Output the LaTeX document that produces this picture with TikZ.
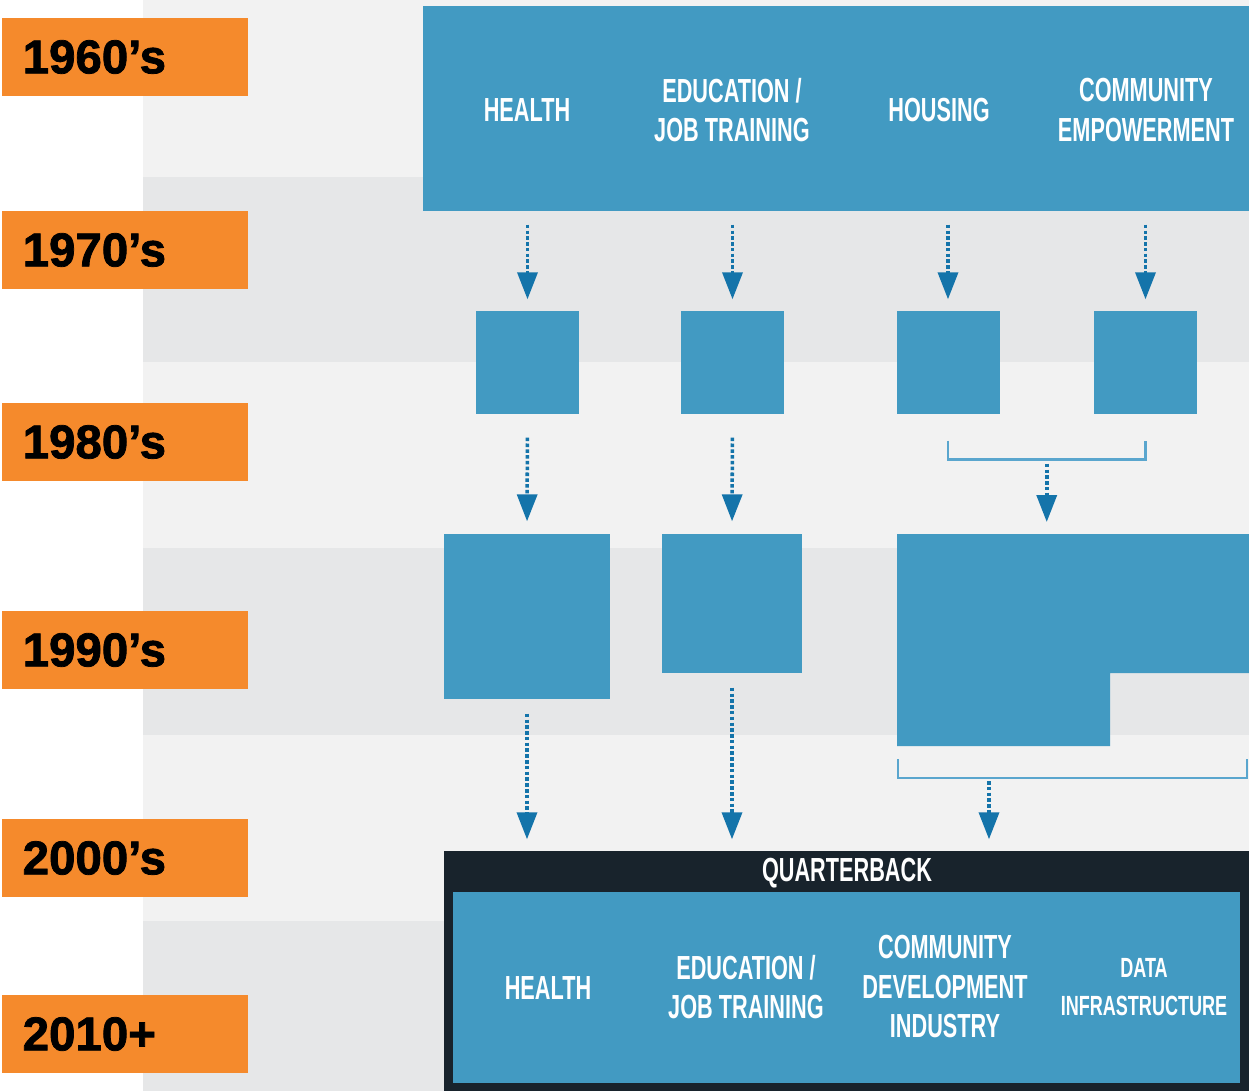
\documentclass[tikz,border=0pt]{standalone}
\usepackage{fontspec}
\setmainfont{Liberation Sans}
\newfontfamily\condfont{Liberation Sans}[FakeStretch=0.65]
\newfontfamily\yearfont{Liberation Sans Bold}[FakeBold=1.6]
\usetikzlibrary{arrows.meta,calc}

\definecolor{bandlight}{HTML}{F2F2F2}
\definecolor{banddark}{HTML}{E6E7E8}
\definecolor{decadeorange}{HTML}{F58A2C}
\definecolor{boxblue}{HTML}{429AC2}
\definecolor{arrowblue}{HTML}{1474AA}
\definecolor{bracketblue}{HTML}{5AA6CE}
\definecolor{qbdark}{HTML}{18232C}

\tikzset{
	decade/.style={fill=decadeorange, text=black, anchor=west, minimum height=0.78cm,
		text width=2.04cm, inner xsep=0.21cm, align=left,
		font=\yearfont\fontsize{13.5}{14}\selectfont},
	blockbox/.style={fill=boxblue, inner sep=0pt},
	lbl/.style={text=white, align=center, font=\condfont\bfseries\fontsize{9.5}{11.1}\selectfont},
	smalllbl/.style={lbl, font=\condfont\bfseries\fontsize{7.9}{10.8}\selectfont},
	flow/.style={arrowblue, line width=1pt, dash pattern=on 1pt off 0.65pt,
		-{Triangle[width=0.2cm,length=0.27cm]}},
	bracketline/.style={bracketblue, line width=0.8pt},
}

\begin{document}
\begin{tikzpicture}
	% background bands
	\fill[white] (0,0) rectangle (12.49,-10.91);
	\fill[bandlight] (1.43,0) rectangle (12.49,-1.77);
	\fill[banddark] (1.43,-1.77) rectangle (12.49,-3.62);
	\fill[bandlight] (1.43,-3.62) rectangle (12.49,-5.48);
	\fill[banddark] (1.43,-5.48) rectangle (12.49,-7.35);
	\fill[bandlight] (1.43,-7.35) rectangle (12.49,-9.21);
	\fill[banddark] (1.43,-9.21) rectangle (12.49,-10.91);

	% decades
	\node[decade] (d60) at (0.01,-0.57) {1960’s};
	\node[decade] (d70) at (0.01,-2.50) {1970’s};
	\node[decade] (d80) at (0.01,-4.42) {1980’s};
	\node[decade] (d90) at (0.01,-6.50) {1990’s};
	\node[decade] (d00) at (0.01,-8.58) {2000’s};
	\node[decade] (d10) at (0.01,-10.34) {2010+};

	% 1960's block
	\node[blockbox, minimum width=8.26cm, minimum height=2.05cm] (top) at (8.36,-1.085) {};
	\node[lbl] (topH) at (5.27,-1.10) {HEALTH};
	\node[lbl] (topE) at (7.32,-1.10) {EDUCATION /\\JOB TRAINING};
	\node[lbl] (topU) at (9.39,-1.10) {HOUSING};
	\node[lbl] (topC) at (11.46,-1.10) {COMMUNITY\\EMPOWERMENT};

	% 1970's squares
	\node[blockbox, minimum size=1.03cm] (h70) at (5.275,-3.625) {};
	\node[blockbox, minimum size=1.03cm] (e70) at (7.325,-3.625) {};
	\node[blockbox, minimum size=1.03cm] (u70) at (9.48,-3.625) {};
	\node[blockbox, minimum size=1.03cm] (c70) at (11.455,-3.625) {};
	\draw[flow, shorten <=0.13cm, shorten >=0.11cm] (top.south -| h70) -- (h70.north);
	\draw[flow, shorten <=0.13cm, shorten >=0.11cm] (top.south -| e70) -- (e70.north);
	\draw[flow, shorten <=0.13cm, shorten >=0.11cm] (top.south -| u70) -- (u70.north);
	\draw[flow, shorten <=0.13cm, shorten >=0.11cm] (top.south -| c70) -- (c70.north);

	% 1990's blocks
	\node[blockbox, minimum width=1.66cm, minimum height=1.65cm] (h90) at (5.27,-6.165) {};
	\node[blockbox, minimum width=1.40cm, minimum height=1.39cm] (e90) at (7.32,-6.035) {};
	\fill[boxblue] (8.97,-5.34) -- (12.49,-5.34) -- (12.49,-6.73) -- (11.10,-6.73)
		-- (11.10,-7.46) -- (8.97,-7.46) -- cycle;
	\coordinate (m90) at (10.48,-5.34);
	\draw[flow, shorten <=0.23cm, shorten >=0.12cm] (h70.south) -- (h90.north);
	\draw[flow, shorten <=0.23cm, shorten >=0.12cm] (e70.south) -- (e90.north);
	% housing + community bracket
	\draw[bracketline] ([yshift=-0.26cm]u70.south) |- ([yshift=-0.45cm]c70.south)
		-- ([yshift=-0.26cm]c70.south);
	\coordinate (brA) at ($([yshift=-0.45cm]u70.south)!0.5!([yshift=-0.45cm]c70.south)$);
	\draw[flow, shorten <=0.04cm, shorten >=0.12cm] (brA) -- (brA |- m90);

	% quarterback
	\node[fill=qbdark, inner sep=0pt, minimum width=8.05cm, minimum height=2.40cm] (qb) at (8.465,-9.71) {};
	\node[lbl] (qbtitle) at (8.47,-8.73) {QUARTERBACK};
	\node[blockbox, minimum width=7.87cm, minimum height=1.91cm] (qbin) at (8.465,-9.875) {};
	\node[lbl] (qbH) at (5.48,-9.88) {HEALTH};
	\node[lbl] (qbE) at (7.46,-9.875) {EDUCATION /\\JOB TRAINING};
	\node[lbl] (qbC) at (9.45,-9.865) {COMMUNITY\\DEVELOPMENT\\INDUSTRY};
	\node[smalllbl] (qbD) at (11.44,-9.87) {DATA\\INFRASTRUCTURE};

	% bracket under the merged block
	\coordinate (brL) at (8.98,-7.59);
	\coordinate (brR) at (12.47,-7.59);
	\draw[bracketline] (brL) -- ++(0,-0.19) -| (brR);
	\coordinate (brB) at (9.89,-7.81);
	\draw[flow, shorten >=0.11cm] (brB) -- (brB |- qb.north);
	\draw[flow, shorten <=0.14cm, shorten >=0.11cm] (h90.south) -- (h90.south |- qb.north);
	\draw[flow, shorten <=0.14cm, shorten >=0.11cm] (e90.south) -- (e90.south |- qb.north);
\end{tikzpicture}
\end{document}
